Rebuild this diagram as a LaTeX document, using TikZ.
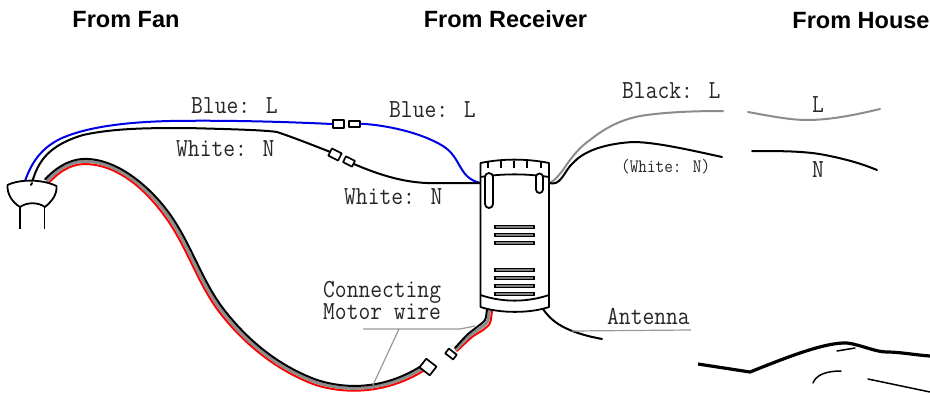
\documentclass[tikz,border=0pt]{standalone}
\usepackage{fontspec}
\setmainfont{Liberation Sans}
\newfontfamily\lblfont[FakeStretch=0.88]{Latin Modern Mono}
\tikzset{
  head/.style={font=\fontsize{23.5}{26}\selectfont\bfseries,inner sep=0pt,anchor=base},
  lbl/.style={font=\lblfont\fontsize{26}{28}\selectfont,text=black!85,inner sep=0pt,anchor=base west,text height=15pt,text depth=2pt},
  small lbl/.style={font=\lblfont\fontsize{19}{21}\selectfont,text=black!85,inner sep=0pt,anchor=base west},
  wire/.style={line width=2pt,line cap=round,line join=round},
  part/.style={line width=1.7pt,line join=round,draw=black,fill=white},
  vent/.style={line width=1.3pt,draw=black,fill=black!50},
  leader/.style={line width=1.2pt,draw=black!40},
  thick line/.style={line width=3.2pt,line join=round},
  tip/.style={line width=1.5pt,line cap=round},
  body/.style={line width=1.8pt,line join=round}
}
\begin{document}
\begin{tikzpicture}[x=1pt,y=-1pt]
\useasboundingbox (0,0) rectangle (930,394);
\fill[white] (0,0) rectangle (930,394);
% headings
\node[head] (hfan) at (126,27) {From Fan};
\node[head] (hrec) at (505.5,27) {From Receiver};
\node[head] (hhouse) at (861,28.3) {From House};
% anchor points of connectors
\coordinate (blueA) at (25,181);
\coordinate (whiteA) at (32,183);
\coordinate (recL) at (480.5,183);
\coordinate (recR) at (549,183);
% connectors as nodes
\node[part,minimum width=11.5pt,minimum height=8pt,inner sep=0pt] (c1) at (338.5,124) {};
\node[part,minimum width=11pt,minimum height=6pt,inner sep=0pt] (c2) at (354.5,123.7) {};
\node[part,minimum width=11pt,minimum height=8pt,inner sep=0pt,rotate=-27] (c3) at (335,154.5) {};
\node[part,minimum width=10pt,minimum height=6.5pt,inner sep=0pt,rotate=-27] (c4) at (349,161.5) {};
% blue wire
\draw[wire,blue!90!black] (blueA) .. controls (33,158) and (45,146) .. (62,138)
  .. controls (90,126) and (130,122) .. (170,121) .. controls (230,120) and (290,122) .. (c1.west);
\draw[wire,blue!90!black] (c2.east) .. controls (385,125) and (420,132) .. (443,146)
  .. controls (462,158) and (458,178) .. (recL);
% white wire
\draw[wire] (whiteA) .. controls (38,160) and (50,145) .. (83,135)
  .. controls (115,128) and (150,128) .. (187,128) .. controls (225,129) and (265,130) .. (277,132)
  .. controls (295,138) and (315,146) .. (c3.west);
\draw[wire] (c4.east) .. controls (375,173) and (400,182) .. (427,183) -- (recL);
% motor wire
\draw[wire,red] (48.8,182.8) .. controls (63.4,167.2) and (75,164.1) .. (85,164.1)
  .. controls (120,164.1) and (147.9,193.6) .. (162.9,213.6)
  .. controls (187.8,246.3) and (198,286.6) .. (223,316.6)
  .. controls (243,341.6) and (274.1,369.4) .. (314.1,384.4)
  .. controls (344.2,394.5) and (386.4,394.2) .. (424.4,370.2);
\draw[wire,black!45,line width=3pt] (47,181) .. controls (62,165) and (75,161.5) .. (85,161.5)
  .. controls (120,161.5) and (150,192) .. (165,212)
  .. controls (190,245) and (200,285) .. (225,315)
  .. controls (245,340) and (275,367) .. (315,382)
  .. controls (345,392) and (385,392) .. (423,368);
\draw[wire] (45.2,179.2) .. controls (60.6,162.8) and (75,158.9) .. (85,158.9)
  .. controls (120,158.9) and (152.1,190.4) .. (167.1,210.4)
  .. controls (192.2,243.7) and (202,283.4) .. (227,313.4)
  .. controls (247,338.4) and (275.9,364.6) .. (315.9,379.6)
  .. controls (345.8,389.5) and (383.6,389.8) .. (421.6,365.8);
\draw[wire,red] plot[smooth] coordinates {(457,351)(472,337)(483,330)(490,323)(492,310)};
\draw[wire,black!45,line width=3pt] plot[smooth] coordinates {(456,349.5)(469.5,336)(480,328.5)(487.5,321.5)(489.5,309.5)};
\draw[wire] plot[smooth] coordinates {(455,348)(467,335)(477,327)(485,320)(487,309)};
\node[part,minimum width=13pt,minimum height=11pt,inner sep=0pt,rotate=-38] (c5) at (428,367) {};
\node[part,minimum width=10pt,minimum height=6pt,inner sep=0pt,rotate=-38] (c6) at (451,354) {};
% fan canopy
\draw[body,line cap=round,fill=white]
  (7.5,185) .. controls (20,179) and (42,179) .. (56.5,186)
  .. controls (57,195) and (52,201) .. (45,207)
  .. controls (38,202) and (27,202) .. (20,207)
  .. controls (12,202) and (7,194) .. (7.5,185) -- cycle;
\draw[body] (20,207) -- (20,229) (44.5,207) -- (44.5,229);
\draw[wire] (whiteA) -- (31,185);
% receiver
\draw[body,fill=white] (480.5,163) .. controls (502,158.5) and (527,158.5) .. (549,163)
  -- (549,307) .. controls (530,313.5) and (500,313.5) .. (480.5,307) -- cycle;
\draw[body] (480.5,177) .. controls (502,173.5) and (527,173.5) .. (549,177);
\draw[body] (480.5,295) .. controls (502,302.5) and (527,302.5) .. (549,295);
\foreach \x in {488,501,514,527,541}{\draw[line width=2.6pt] (\x,161) -- (\x,168);}
\draw[body,fill=white] (485,177) arc[start angle=180,end angle=360,radius=4] -- (493,204) arc[start angle=0,end angle=180,radius=4] -- cycle;
\draw[body,fill=white] (536,177) arc[start angle=180,end angle=360,radius=3.5] -- (543,189.5) arc[start angle=0,end angle=180,radius=3.5] -- cycle;
\foreach \y in {227,235,243,270,278,286,294}{\draw[vent] (495,\y-1.6) rectangle (534,\y+1.6);}
% mains wires
\draw[wire,black!45] (recR) .. controls (556,180) and (558,176) .. (563,170)
  .. controls (573,155) and (580,147) .. (590,140) .. controls (605,128) and (620,120) .. (640,116)
  .. controls (665,112) and (695,111) .. (723,111);
\draw[wire] (recR) -- (553,183.5) .. controls (562,183) and (565,170) .. (573,163)
  .. controls (582,153) and (600,144) .. (633,142) .. controls (655,142) and (690,150) .. (722,157);
\coordinate (hL1) at (748,112); \coordinate (hL2) at (880,109);
\coordinate (hN1) at (752,151); \coordinate (hN2) at (877,170);
\draw[wire,black!45] (hL1) .. controls (770,116) and (790,120) .. (807,120) .. controls (830,120) and (855,115) .. (hL2);
\draw[wire] (hN1) .. controls (780,151) and (805,151) .. (825,155) .. controls (845,159) and (860,163) .. (hN2);
% antenna
\coordinate (antA) at (543,309); \coordinate (antB) at (602,339);
\draw[wire] (antA) .. controls (552,322) and (565,332) .. (antB);
% leaders
\coordinate (lA) at (363,329); \coordinate (lB) at (460,329); \coordinate (lC) at (475,326);
\coordinate (lD) at (399,329); \coordinate (lE) at (373,385);
\coordinate (lF) at (572,331); \coordinate (lG) at (691,330);
\draw[leader] (lA) -- (lB) -- (lC);
\draw[leader] (lD) -- (lE);
\draw[leader] (lF) -- (lG);
% labels
\node[lbl] (t1) at (191,113) {Blue: L};
\node[lbl] (t2) at (389,117) {Blue: L};
\node[lbl] (t3) at (176,156) {White: N};
\node[lbl] (t4) at (344,204) {White: N};
\node[lbl] (t5) at (622,98) {Black: L};
\node[small lbl] (t6) at (621,172) {(White: N)};
\node[lbl] (t7) at (812,112) {L};
\node[lbl] (t8) at (812,177) {N};
\node[lbl] (t9) at (323,297.5) {Connecting};
\node[lbl] (t10) at (323,319.5) {Motor wire};
\node[lbl] (t11) at (607,324) {Antenna};
% bottom right sketch
\draw[thick line] (698,364) -- (750,372) .. controls (785,358) and (825,342) .. (847,343)
  .. controls (862,345) and (875,352) .. (887,352) .. controls (900,352) and (915,355) .. (930,356);
\draw[tip] (837,351) -- (855,348);
\draw[tip] (813,383) .. controls (816,375) and (826,371) .. (841,371);
\draw[tip] (868,379) -- (930,392);
\end{tikzpicture}
\end{document}
